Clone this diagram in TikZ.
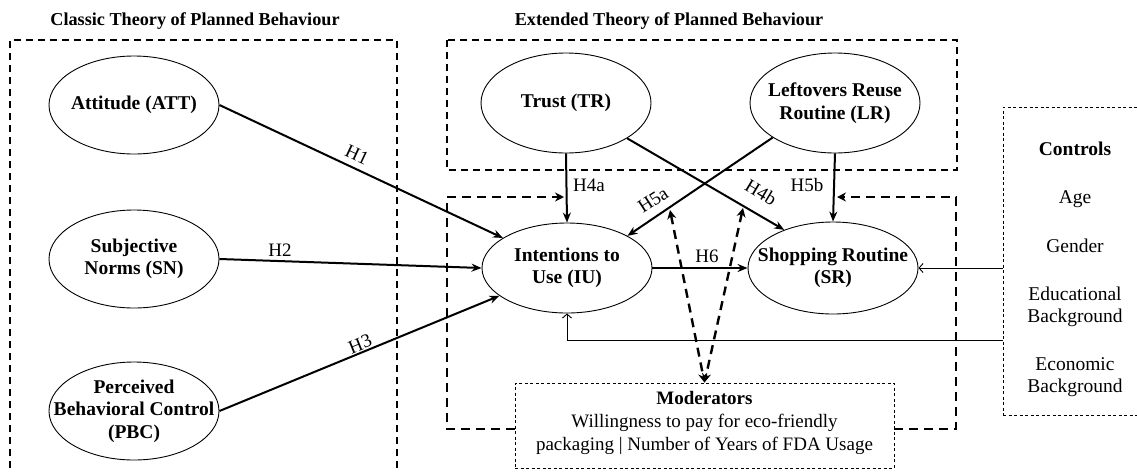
\documentclass[tikz,border=0pt]{standalone}
\usepackage{fontspec}
\setmainfont{Liberation Serif}
\usetikzlibrary{shapes.geometric,arrows.meta}

\begin{document}
\begin{tikzpicture}[x=1pt,y=-1pt,
  construct/.style={draw,ellipse,line width=0.9pt,inner sep=0pt,minimum width=170pt,minimum height=98pt},
  conlab/.style={align=center,font=\fontsize{19.5}{22.5}\selectfont\bfseries},
  hyp/.style={line width=2pt,-{Stealth[length=10pt,width=8pt]}},
  ctrl/.style={line width=0.9pt,-{Straight Barb[length=4pt,width=9pt]}},
  modline/.style={line width=2.4pt,dash pattern=on 9pt off 6pt},
  frame/.style={line width=1.2pt,dash pattern=on 7pt off 5pt},
  dotbox/.style={draw,line width=0.9pt,dash pattern=on 3pt off 2.5pt},
  lab/.style={font=\fontsize{19}{22}\selectfont},
  title/.style={font=\fontsize{18.2}{22}\selectfont\bfseries}]
\useasboundingbox (0,0) rectangle (1137,472);

\path (195,21) node[title] {Classic Theory of Planned Behaviour};
\path (669,21) node[title] {Extended Theory of Planned Behaviour};
\draw[frame] (10,480) -- (10,40) -- (397,40) -- (397,480);
\draw[frame] (447,40) rectangle (957,170);

\path (134,105) node[construct,label={[conlab]center:{Attitude (ATT)}}] (ATT) {};
\path (134,259) node[construct,label={[conlab]center:{Subjective\\Norms (SN)}}] (SN) {};
\path (134,411) node[construct,label={[conlab]center:{Perceived\\Behavioral Control\\(PBC)}}] (PBC) {};
\path (566,103) node[construct,minimum height=100pt,label={[conlab]center:{Trust (TR)}}] (TR) {};
\path (835,103) node[construct,minimum height=100pt,label={[conlab]center:{Leftovers Reuse\\Routine (LR)}}] (LR) {};
\path (567,268) node[construct,minimum height=90pt,label={[conlab]center:{Intentions to\\Use (IU)}}] (IU) {};
\path (833,268) node[construct,minimum height=92pt,label={[conlab]center:{Shopping Routine\\(SR)}}] (SR) {};

\path (704.5,425.5) node[dotbox,minimum width=379pt,minimum height=85pt,align=center,
  font=\fontsize{19}{23}\selectfont] (MOD)
  {\textbf{Moderators}\\Willingness to pay for eco-friendly\\packaging | Number of Years of FDA Usage\rule[-10pt]{0pt}{1pt}};
\path (1075,261) node[dotbox,minimum width=144pt,minimum height=308pt,align=center,
  font=\fontsize{19.5}{22}\selectfont] (CTRL)
  {\rule{0pt}{30pt}\textbf{Controls}\\[26pt]Age\\[27pt]Gender\\[26pt]Educational\\Background\\[26pt]Economic\\Background};

\draw[hyp] (ATT.east) -- (IU);
\draw[hyp] (SN.east) -- (IU.west);
\draw[hyp] (PBC.east) -- (IU);
\draw[hyp] (TR.south) -- (IU.north);
\draw[hyp] (TR.-30) -- (SR.142);
\draw[hyp] (LR.209) -- (IU.28);
\draw[hyp] (LR.south) -- (SR.north);
\draw[hyp] (IU.east) -- (SR.west);

\path (357,155) node[lab,rotate=-25] {H1};
\path (280,250) node[lab] {H2};
\path (360,344) node[lab,rotate=22] {H3};
\path (589,185) node[lab] {H4a};
\path (761,192) node[lab,rotate=-31] {H4b};
\path (653,200) node[lab,rotate=33] {H5a};
\path (807,185) node[lab] {H5b};
\path (707,256) node[lab] {H6};

\coordinate (mtl) at (447,197);
\coordinate (mbl) at (447,429);
\coordinate (mtr) at (956,197);
\coordinate (mbr) at (956,429);
\coordinate (mod1) at (670,210);
\coordinate (mod2) at (743,208);
\draw[modline,-{Stealth[length=9pt,width=9pt,inset=3pt]}] (MOD.west |- mbl) -- (mbl) -- (mtl) -- ([xshift=-2pt]TR.south |- mtl);
\draw[modline,-{Stealth[length=9pt,width=9pt,inset=3pt]}] (MOD.east |- mbr) -- (mbr) -- (mtr) -- ([xshift=2pt]LR.south |- mtr);
\draw[modline,{Stealth[length=9pt,width=9pt,inset=3pt]}-{Stealth[length=9pt,width=9pt,inset=3pt]}] (mod1) -- (MOD.north);
\draw[modline,{Stealth[length=9pt,width=9pt,inset=3pt]}-{Stealth[length=9pt,width=9pt,inset=3pt]}] (mod2) -- (MOD.north);

\coordinate (cIU) at (CTRL.west |- 0,340);
\draw[ctrl] (CTRL.west |- SR) -- (SR.east);
\draw[ctrl] (cIU) -- (IU |- cIU) -- (IU.south);
\end{tikzpicture}
\end{document}
